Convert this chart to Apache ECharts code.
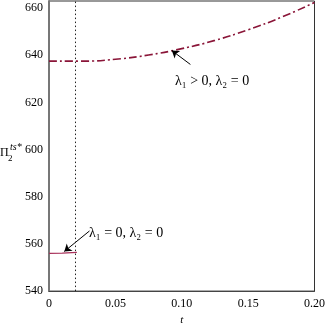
<!DOCTYPE html>
<html><head><meta charset="utf-8">
<script src="https://cdn.jsdelivr.net/npm/echarts@6/dist/echarts.min.js"></script>
<style>html,body{margin:0;padding:0;background:#fff}#c{width:328px;height:331px}</style>
</head><body><div id="c"></div>
<script>
const tValues = [0, 0.025, 0.05, 0.075, 0.1, 0.125, 0.15, 0.175, 0.2];
const upperValues = [637.5, 637.5, 638.3, 640.1, 642.8, 646.3, 650.8, 656.1, 662.4];
const lowerT = [0, 0.01, 0.021];
const lowerValues = [556.0, 556.1, 556.4];
const thresholdT = 0.021;
const xTicks = ['0', '0.05', '0.10', '0.15', '0.20'];
const upperLabel = 'λ₁ > 0, λ₂ = 0';
const lowerLabel = 'λ₁ = 0, λ₂ = 0';

const chart = echarts.init(document.getElementById('c'), null, {renderer: 'canvas'});
const font = 'Liberation Serif';
const xFmt = v => { const i = Math.round(v / 0.05); return Math.abs(v - i * 0.05) < 1e-9 ? xTicks[i] : ''; };
chart.setOption({
  animation: false,
  grid: {left: 49, right: 7, top: 1, bottom: 28, show: true, borderColor: '#333', borderWidth: 1},
  xAxis: {
    type: 'value', min: 0, max: 0.2, interval: 0.05,
    name: 't', nameLocation: 'middle', nameGap: 17,
    nameTextStyle: {fontFamily: font, fontStyle: 'italic', fontSize: 11, color: '#000'},
    axisLine: {show: true, lineStyle: {color: '#444', width: 1}},
    axisTick: {show: false},
    splitLine: {show: false},
    axisLabel: {formatter: xFmt, fontFamily: font, fontSize: 12, color: '#000', margin: 7}
  },
  yAxis: {
    type: 'value', min: 540, max: 663, interval: 20,
    axisLine: {show: true, lineStyle: {color: '#777', width: 2}},
    axisTick: {show: false},
    splitLine: {show: false},
    axisLabel: {formatter: v => (v % 20 === 0 ? String(v) : ''), fontFamily: font, fontSize: 12, color: '#000', margin: 6}
  },
  series: [
    {
      type: 'line', data: tValues.map((t, i) => [t, upperValues[i]]), smooth: true, symbol: 'none',
      lineStyle: {color: '#8a1538', width: 1.6, type: [8, 3, 2, 3]},
      markLine: {
        silent: true, symbol: ['none', 'arrow'], symbolSize: 7,
        lineStyle: {color: '#000', width: 1, type: 'solid'}, label: {show: false},
        data: [[{coord: [0.1065, 636.1]}, {coord: [0.0925, 642.0]}]]
      }
    },
    {
      type: 'line', data: lowerT.map((t, i) => [t, lowerValues[i]]), symbol: 'none',
      lineStyle: {color: '#a8305a', width: 1.2},
      markLine: {
        silent: true, symbol: ['none', 'arrow'], symbolSize: 7,
        lineStyle: {color: '#000', width: 1, type: 'solid'}, label: {show: false},
        data: [[{coord: [0.0305, 565.5]}, {coord: [0.0115, 556.8]}]]
      }
    },
    {
      type: 'line', data: [], symbol: 'none',
      markLine: {
        silent: true, symbol: 'none', label: {show: false},
        lineStyle: {color: '#222', width: 1, type: [1.5, 2.5]},
        data: [{xAxis: thresholdT}]
      }
    }
  ],
  graphic: [
    {type: 'text', left: 175, top: 74, style: {text: upperLabel, font: '14px "Liberation Serif"', fill: '#000'}},
    {type: 'text', left: 89, top: 226, style: {text: lowerLabel, font: '14px "Liberation Serif"', fill: '#000'}},
    {type: 'text', left: 0, top: 147, style: {text: 'Π', font: '12px "Liberation Serif"', fill: '#000'}},
    {type: 'text', left: 8, top: 154, style: {text: '2', font: '9px "Liberation Serif"', fill: '#000'}},
    {type: 'text', left: 10, top: 142, style: {text: 'ts*', font: 'italic 10px "Liberation Serif"', fill: '#000'}}
  ]
});
</script></body></html>
